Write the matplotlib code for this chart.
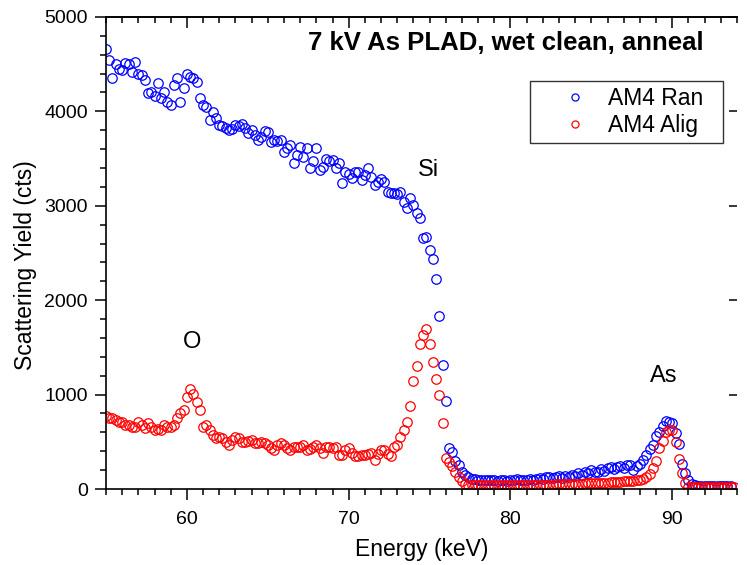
import numpy as np
import matplotlib
matplotlib.use("Agg")
from matplotlib import pyplot as plt
from matplotlib.ticker import MultipleLocator

plt.rcParams['font.family'] = ['Liberation Sans', 'DejaVu Sans']

# channel energies, 0.2 keV per channel
energy = np.round(np.arange(55.0, 93.81, 0.2), 1)

# random spectrum (counts)
ran_cts = [
    4660, 4540, 4350, 4500, 4450, 4440, 4510, 4500, 4420, 4520,
    4400, 4380, 4330, 4190, 4210, 4160, 4300, 4140, 4210, 4100,
    4070, 4280, 4350, 4100, 4250, 4400, 4360, 4350, 4310, 4140,
    4070, 4050, 3910, 3990, 3930, 3860, 3850, 3820, 3800, 3810,
    3860, 3840, 3870, 3820, 3770, 3800, 3750, 3700, 3730, 3790,
    3780, 3680, 3700, 3690, 3700, 3570, 3610, 3640, 3450, 3540,
    3620, 3520, 3610, 3400, 3470, 3610, 3380, 3410, 3500, 3470,
    3490, 3400, 3450, 3240, 3360, 3340, 3290, 3360, 3360, 3270,
    3330, 3400, 3310, 3220, 3250, 3280, 3250, 3150, 3130, 3140,
    3120, 3150, 3040, 2980, 3080, 3010, 2920, 2870, 2660, 2670,
    2530, 2440, 2225, 1830, 1310, 930, 430, 390, 300, 250,
    185, 150, 125, 110, 105, 100, 95, 100, 95, 100,
    95, 90, 100, 95, 90, 100, 95, 105, 95, 100,
    100, 110, 100, 105, 115, 110, 125, 130, 115, 125,
    135, 120, 140, 130, 150, 140, 165, 150, 180, 170,
    200, 185, 175, 210, 190, 220, 230, 215, 235, 240,
    225, 250, 255, 205, 240, 260, 310, 360, 420, 470,
    560, 600, 665, 725, 715, 700, 590, 480, 270, 165,
    95, 55, 40, 35, 30, 35, 30, 30, 30, 35,
    30, 30, 35, 30, np.nan,
]

# aligned spectrum (counts)
alig_cts = [
    770, 750, 750, 730, 715, 710, 680, 680, 660, 660,
    710, 680, 645, 695, 660, 620, 640, 625, 680, 660,
    660, 680, 750, 800, 840, 970, 1055, 1010, 925, 840,
    660, 680, 625, 575, 540, 555, 535, 500, 465, 520,
    555, 535, 500, 500, 505, 520, 485, 490, 500, 490,
    470, 430, 415, 465, 485, 470, 430, 415, 440, 450,
    450, 465, 415, 420, 450, 465, 430, 380, 445, 440,
    430, 440, 360, 365, 410, 430, 380, 345, 350, 360,
    365, 375, 380, 310, 375, 410, 410, 370, 345, 440,
    470, 555, 625, 715, 880, 1140, 1300, 1540, 1630, 1690,
    1540, 1350, 1160, 1000, 700, 330, 290, 240, 185, 130,
    80, 55, 45, 40, 40, 40, 40, 40, 40, 40,
    40, 40, 40, 40, 40, 40, 40, 40, 40, 40,
    40, 40, 40, 45, 40, 45, 45, 45, 45, 50,
    50, 50, 50, 50, 55, 55, 55, 55, 60, 60,
    60, 60, 65, 65, 65, 65, 70, 70, 70, 75,
    80, 80, 85, 90, 95, 95, 110, 125, 160, 220,
    300, 430, 510, 600, 625, 620, 500, 320, 170, 65,
    25, 25, 25, 25, 25, 25, 25, 25, 25, 25,
    25, 25, 25, 25, 25,
]

fig = plt.figure(figsize=(7.47, 5.65), dpi=100)
ax = fig.add_axes([0.1419, 0.1345, 0.8447, 0.8355])

ax.plot(energy, ran_cts, 'o', ms=6.8, mfc='none', mec='#0000ff', mew=0.9,
        label='AM4 Ran')
ax.plot(energy, alig_cts, 'o', ms=6.8, mfc='none', mec='#ff0000', mew=0.9,
        label='AM4 Alig')

ax.set_xlim(55, 94)
ax.set_ylim(0, 5000)
ax.xaxis.set_major_locator(MultipleLocator(10))
ax.xaxis.set_minor_locator(MultipleLocator(1))
ax.yaxis.set_major_locator(MultipleLocator(1000))
ax.yaxis.set_minor_locator(MultipleLocator(200))
ax.tick_params(which='major', direction='out', length=8, width=1.1,
               labelsize=14)
ax.tick_params(which='minor', direction='out', length=4.5, width=1.1)
ax.tick_params(axis='x', which='major', pad=8)
ax.tick_params(axis='y', which='major', pad=5)
for s in ax.spines.values():
    s.set_linewidth(1.2)
ax.spines['right'].set_visible(False)

# mirrored ticks on top and right, pointing inward
top = ax.secondary_xaxis('top')
top.xaxis.set_major_locator(MultipleLocator(10))
top.xaxis.set_minor_locator(MultipleLocator(1))
top.tick_params(which='major', direction='in', length=8, width=1.1,
                labeltop=False)
top.tick_params(which='minor', direction='in', length=4.5, width=1.1)
top.spines['top'].set_linewidth(1.2)

right = ax.secondary_yaxis('right')
right.yaxis.set_major_locator(MultipleLocator(1000))
right.yaxis.set_minor_locator(MultipleLocator(200))
right.tick_params(which='major', direction='in', length=6, width=1.1,
                  labelright=False)
right.tick_params(which='minor', length=0)
right.spines['right'].set_visible(False)

ax.set_xlabel('Energy (keV)', fontsize=16.5, labelpad=7)
ax.set_ylabel('Scattering Yield (cts)', fontsize=16.5)
ax.yaxis.set_label_coords(-0.11, 0.475)

ax.text(79.7, 4725, '7 kV As PLAD, wet clean, anneal', fontsize=18.5,
        fontweight='bold', ha='center', va='center')
ax.text(74.9, 3380, 'Si', fontsize=17, ha='center', va='center')
ax.text(60.3, 1557, 'O', fontsize=17, ha='center', va='center')
ax.text(89.45, 1197, 'As', fontsize=17, ha='center', va='center')

leg = ax.legend(loc='upper left', bbox_to_anchor=(0.672, 0.735, 0.306, 0.129),
                mode='expand', borderaxespad=0, fontsize=16.5, frameon=True,
                fancybox=False, markerscale=0.75, borderpad=0.25,
                handletextpad=-0.26, handlelength=3.4, labelspacing=0.2)
leg.get_frame().set_edgecolor('black')
leg.get_frame().set_linewidth(1.0)

fig.savefig('out.png', dpi=100)
